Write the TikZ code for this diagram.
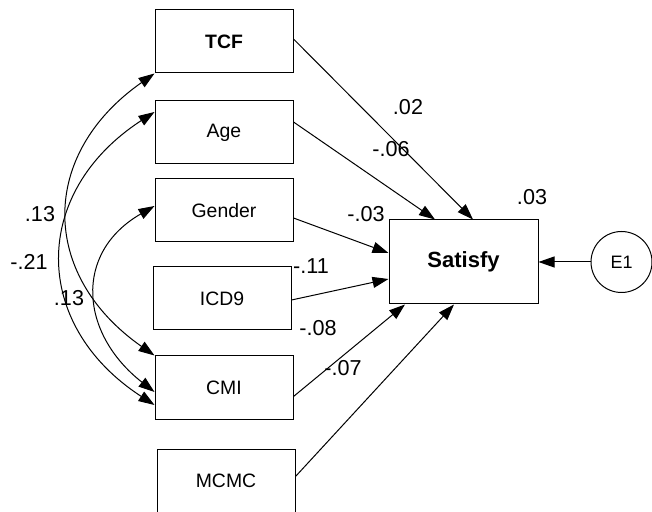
\documentclass[tikz,border=0pt]{standalone}
\usepackage{fontspec}
\setmainfont{Liberation Sans}
\usepackage{tikz}
\usetikzlibrary{calc}
\usetikzlibrary{arrows.meta}

\begin{document}
\begin{tikzpicture}[x=0.5pt, y=-0.5pt, line width=0.5pt,
  var/.style={draw, minimum width=69pt, minimum height=31.5pt, inner sep=0pt, font=\fontsize{9.7}{11}\selectfont},
  err/.style={draw, circle, minimum size=30.5pt, inner sep=0pt, font=\fontsize{9}{11}\selectfont},
  coef/.style={inner sep=0pt, font=\fontsize{10.8}{13}\selectfont},
  effect/.style={-{Triangle[length=8pt, width=5.5pt]}},
  covar/.style={{Triangle[length=8pt, width=5.5pt]}-{Triangle[length=8pt, width=5.5pt]}}]
  \useasboundingbox (0,0) rectangle (652,512);

  \node[var] (TCF) at (224,41.5) {\bfseries TCF};
  \node[var] (Age) at (224,132.5) {Age};
  \node[var] (Gender) at (224,210.5) {Gender};
  \node[var] (ICD9) at (222,298.5) {ICD9};
  \node[var] (CMI) at (224,387.5) {CMI};
  \node[var] (MCMC) at (226,480.5) {MCMC};
  \node[var, minimum width=74.5pt, minimum height=42pt, font=\fontsize{11}{13}\selectfont\bfseries] (Satisfy) at (463.5,262) {Satisfy};
  \node[err] (E1) at (621.5,262) {E1};

  \draw[effect] ($(TCF.east)+(0,-2.5)$) -- ($(Satisfy.north)+(9.5,0)$);
  \draw[effect] ($(Age.east)+(0,-10.5)$) -- ($(Satisfy.north)+(-28.5,0)$);
  \draw[effect] ($(Gender.east)+(0,7.5)$) -- ($(Satisfy.west)+(0,-9)$);
  \draw[effect] ($(ICD9.east)+(0,1.5)$) -- ($(Satisfy.west)+(0,17)$);
  \draw[effect] ($(CMI.east)+(0,9)$) -- ($(Satisfy.south)+(-58.5,0)$);
  \draw[effect] ($(MCMC.east)+(0,-4)$) -- ($(Satisfy.south)+(-9.5,0)$);
  \draw[effect] (E1) -- (Satisfy);

  \draw[covar] (TCF.south west) to[out=215, in=145, looseness=1.28] (CMI.north west);
  \draw[covar] ($(Age.west)+(0,-20.5)$) to[out=213, in=147, looseness=1.29] ($(CMI.west)+(0,17.5)$);
  \draw[covar] ($(Gender.west)+(0,-4.5)$) to[out=210, in=142, looseness=1.3] ($(CMI.west)+(0,4.5)$);

  \foreach \lbl/\pos [count=\i] in {.02/{408,107}, -.06/{391,149}, .03/{532,197},
      -.03/{366,214}, -.11/{311,266}, -.08/{318,328}, -.07/{343,368},
      .13/{40,214}, -.21/{29,262}, .13/{69,298}}
    \node[coef] (w\i) at (\pos) {\lbl};
\end{tikzpicture}
\end{document}
